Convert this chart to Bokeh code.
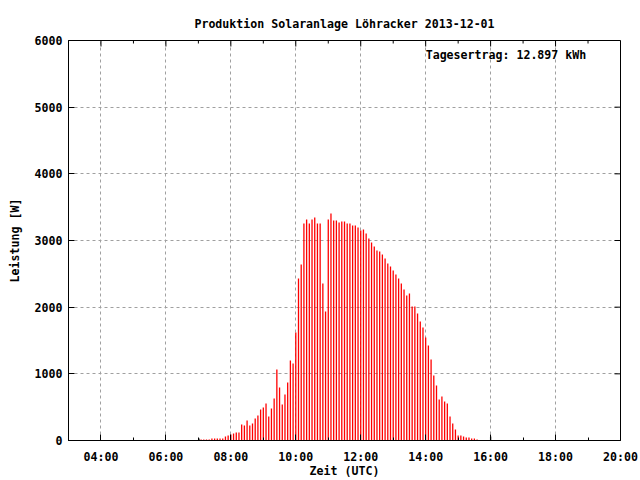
import math
from bokeh.plotting import figure
from bokeh.models import Range1d, FixedTicker, Label, ColumnDataSource
from bokeh.embed import file_html
from bokeh.resources import INLINE

# ---------------- data ----------------
title_text = "Produktion Solaranlage Löhracker 2013-12-01"
x_label = "Zeit (UTC)"
y_label = "Leistung [W]"
yield_text = "Tagesertrag: 12.897 kWh"

hour_ticks = [4, 6, 8, 10, 12, 14, 16, 18, 20]
hour_labels = ["04:00", "06:00", "08:00", "10:00", "12:00", "14:00", "16:00", "18:00", "20:00"]
minor_hours = [3, 5, 7, 9, 11, 13, 15, 17, 19]
power_ticks = [0, 1000, 2000, 3000, 4000, 5000, 6000]

# 5-minute readings starting at 07:05 (W)
start_time = "07:05"
interval_min = 5
power_w = [
    15, 15, 15, 15, 30, 30, 30, 30, 30, 60, 75, 90,            # 07:05-08:00
    105, 120, 120, 240, 225, 300, 225, 255, 330, 375, 465, 495,  # 08:05-09:00
    555, 360, 480, 630, 1065, 795, 540, 690, 870, 1200, 1155, 1620,  # 09:05-10:00
    2430, 2640, 3255, 3315, 3255, 3315, 3345, 3255, 3255, 2355, 1935, 3315,  # 10:05-11:00
    3405, 3300, 3300, 3270, 3285, 3285, 3255, 3255, 3225, 3225, 3195, 3150,  # 11:05-12:00
    3165, 3105, 3030, 2970, 2910, 2850, 2835, 2790, 2730, 2655, 2610, 2550,  # 12:05-13:00
    2490, 2430, 2355, 2265, 2175, 2205, 2010, 2010, 1905, 1785, 1695, 1545,  # 13:05-14:00
    1425, 1215, 975, 825, 615, 660, 585, 555, 360, 255, 165, 75,  # 14:05-15:00
    75, 60, 45, 45, 30, 30, 15,                                  # 15:05-15:35
]

marker_times = ["07:01", "16:00"]
marker_power = [30, 60]

# ---------------- build ----------------
def to_hours(s):
    h, m = s.split(":")
    return int(h) + int(m) / 60.0

t0 = to_hours(start_time)
times = [t0 + i * interval_min / 60.0 for i in range(len(power_w))]
mtimes = [to_hours(s) for s in marker_times]

FONT = "DejaVu Sans Mono"
FS = "11.6px"
X0, X1 = 3, 20
Y0, Y1 = 0, 6000

p = figure(width=640, height=480, x_range=Range1d(X0, X1), y_range=Range1d(Y0, Y1),
           output_backend="svg", toolbar_location=None,
           min_border_left=68, min_border_right=20, min_border_top=40, min_border_bottom=40)
p.background_fill_color = "white"
p.border_fill_color = "white"
p.outline_line_color = "black"
p.outline_line_width = 1

p.title.text = title_text
p.title.align = "center"
p.title.vertical_align = "top"
p.title.text_font = FONT
p.title.text_font_size = FS
p.title.text_font_style = "bold"
p.title.text_color = "black"
p.title.standoff = 16

xt = FixedTicker(ticks=hour_ticks, minor_ticks=minor_hours)
yt = FixedTicker(ticks=power_ticks)

xa = p.xaxis[0]
xa.ticker = xt
xa.major_label_overrides = {t: l for t, l in zip(hour_ticks, hour_labels)}
xa.axis_label = x_label
ya = p.yaxis[0]
ya.ticker = yt
ya.axis_label = y_label

for ax in (xa, ya):
    ax.major_label_text_font = FONT
    ax.major_label_text_font_size = FS
    ax.major_label_text_font_style = "bold"
    ax.major_label_text_color = "black"
    ax.axis_label_text_font = FONT
    ax.axis_label_text_font_size = FS
    ax.axis_label_text_font_style = "bold"
    ax.axis_label_text_color = "black"
    ax.major_tick_in = 6
    ax.major_tick_out = 0
    ax.minor_tick_in = 3
    ax.minor_tick_out = 0
    ax.axis_line_color = "black"
    ax.major_tick_line_color = "black"
    ax.minor_tick_line_color = "black"

xa.major_label_standoff = 9
xa.axis_label_standoff = -3
ya.major_label_standoff = 6
ya.axis_label_standoff = 10
ya.minor_tick_line_color = None

# mirrored inward ticks on top and right borders
p.ray(x=hour_ticks, y=[Y1] * len(hour_ticks), length=6, length_units="screen",
      angle=-math.pi / 2, line_color="black", line_width=1)
p.ray(x=minor_hours, y=[Y1] * len(minor_hours), length=3, length_units="screen",
      angle=-math.pi / 2, line_color="black", line_width=1)
p.ray(x=[X1] * len(power_ticks), y=power_ticks, length=6, length_units="screen",
      angle=math.pi, line_color="black", line_width=1)

p.xgrid.ticker = xt
p.ygrid.ticker = yt
for g in (p.xgrid, p.ygrid):
    g.grid_line_color = "#a0a0a0"
    g.grid_line_dash = "3 3"
    g.grid_line_width = 1

src = ColumnDataSource(dict(t=times, w=power_w))
p.segment(x0="t", y0=0, x1="t", y1="w", source=src, line_color="#ff0000", line_width=1.3)
msrc = ColumnDataSource(dict(t=mtimes, w=marker_power))
p.segment(x0="t", y0=0, x1="t", y1="w", source=msrc, line_color="black", line_width=1.3)

p.add_layout(Label(x=14, y=5780, text=yield_text, text_font=FONT, text_font_size=FS,
                   text_font_style="bold", text_baseline="middle", text_align="left",
                   text_color="black"))

open("out.html", "w").write(file_html(p, INLINE))
